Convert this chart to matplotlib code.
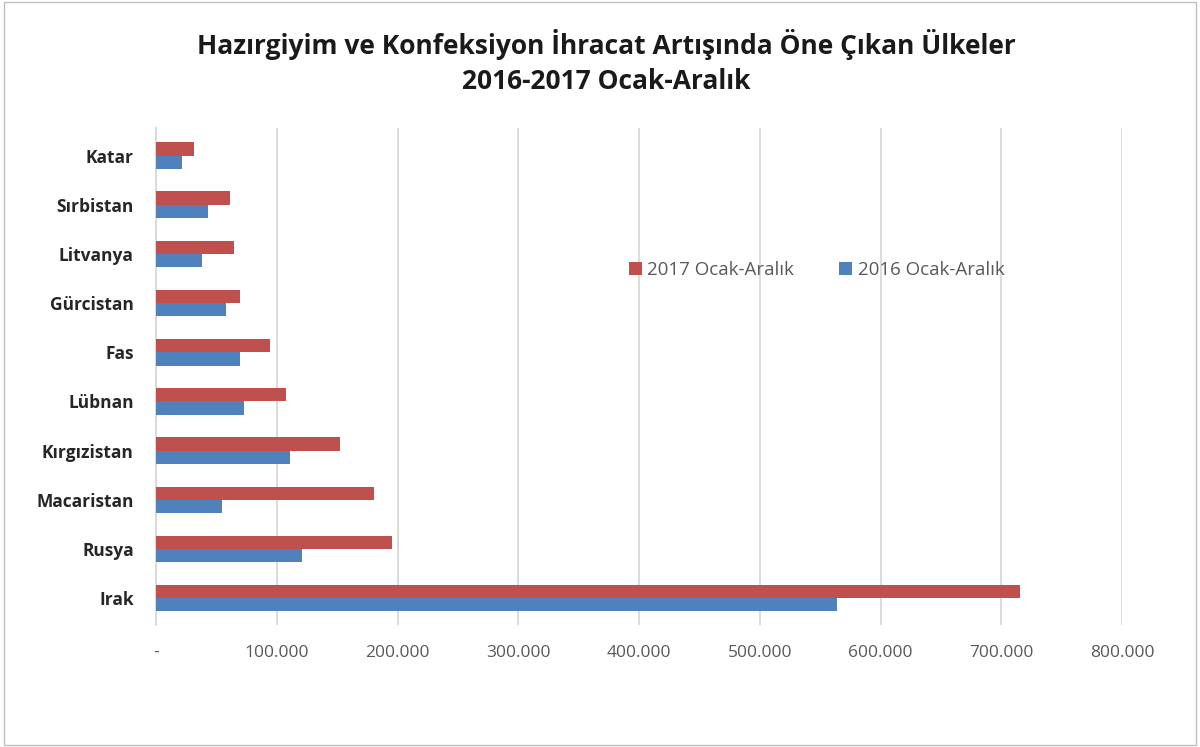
import matplotlib

matplotlib.use("Agg")
import matplotlib.pyplot as plt
import numpy as np
from matplotlib.patches import Rectangle
from matplotlib.ticker import FuncFormatter

plt.rcParams["font.family"] = ["Open Sans", "DejaVu Sans"]

countries = ["Irak", "Rusya", "Macaristan", "Kırgızistan", "Lübnan",
             "Fas", "Gürcistan", "Litvanya", "Sırbistan", "Katar"]
exp_2017 = [715500, 195300, 180400, 152300, 107700,
            94500, 69700, 64700, 61400, 31700]
exp_2016 = [564000, 120900, 54800, 111000, 72700,
            69700, 58100, 38000, 43200, 21500]
series_names = ["2017 Ocak-Aralık", "2016 Ocak-Aralık"]
xticks = np.arange(0, 800001, 100000)

RED = "#C0504D"
BLUE = "#4F81BD"


def fmt(v, _pos):
    if v == 0:
        return "-"
    return f"{int(v):,}".replace(",", ".")


fig = plt.figure(figsize=(12, 7.47), dpi=100)
ax = fig.add_axes([0.13, 0.163, 0.805, 0.665])

y = np.arange(len(countries))
h = 0.27
ax.barh(y + h / 2, exp_2017, height=h, color=RED, label=series_names[0], zorder=3)
ax.barh(y - h / 2, exp_2016, height=h, color=BLUE, label=series_names[1], zorder=3)

ax.set_xlim(0, 800000)
ax.set_ylim(-0.55, len(countries) - 0.45)
ax.set_xticks(xticks)
ax.xaxis.set_major_formatter(FuncFormatter(fmt))
ax.set_yticks(y, countries)
ax.grid(axis="x", color="#D9D9D9", lw=1.3, zorder=0)
for s in ["top", "right", "bottom"]:
    ax.spines[s].set_visible(False)
ax.spines["left"].set_color("#D9D9D9")
ax.spines["left"].set_linewidth(1.3)
ax.tick_params(axis="both", length=0)
ax.tick_params(axis="x", labelsize=12.5, labelcolor="#595959", pad=14)
ax.tick_params(axis="y", labelsize=12.5, labelcolor="#262626", pad=16)
for lbl in ax.get_yticklabels():
    lbl.set_fontweight("bold")

handles, labels = ax.get_legend_handles_labels()
ax.legend(handles, labels, loc="center", bbox_to_anchor=(0.684, 0.715), ncol=2,
          frameon=False, fontsize=13.5, labelcolor="#595959",
          handlelength=0.7, handleheight=0.7, handletextpad=0.3,
          columnspacing=2.4)

fig.text(0.505, 0.94, "Hazırgiyim ve Konfeksiyon İhracat Artışında Öne Çıkan Ülkeler",
         ha="center", va="center", fontsize=19, fontweight="bold", color="#1a1a1a")
fig.text(0.505, 0.891, "2016-2017 Ocak-Aralık",
         ha="center", va="center", fontsize=19, fontweight="bold", color="#1a1a1a")

fig.patches.append(Rectangle((0.003, 0.003), 0.994, 0.994, transform=fig.transFigure,
                             fill=False, edgecolor="#BFBFBF", lw=1))

fig.savefig("out.png", dpi=100)
